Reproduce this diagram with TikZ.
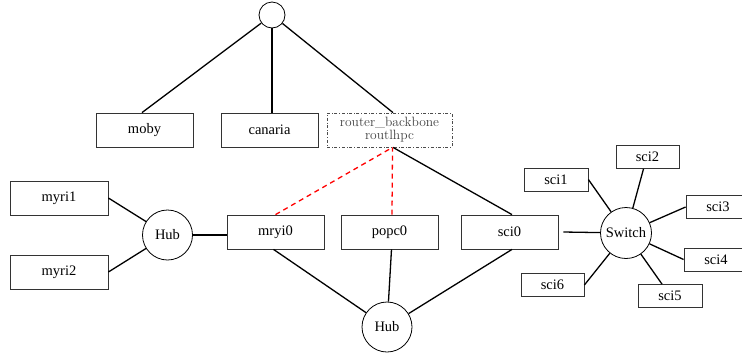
\documentclass[tikz,border=0pt]{standalone}
\usepackage{fontspec}
\newfontfamily\timesfont{Liberation Serif}
\begin{document}
\begin{tikzpicture}[x=1pt,y=-1pt,
  box/.style={draw=black!80,line width=0.8pt,rectangle,inner sep=0pt,font=\timesfont\fontsize{14.5}{16}\selectfont},
  bigbox/.style={box,minimum width=97pt,minimum height=34pt},
  smallbox/.style={box,minimum width=63pt,minimum height=23pt},
  hub/.style={draw=black,line width=0.8pt,circle,inner sep=0pt,minimum size=50pt,font=\timesfont\fontsize{14.5}{16}\selectfont},
  link/.style={line width=1.3pt,black},
  redlink/.style={line width=1.3pt,red,dash pattern=on 5pt off 4pt}]
\useasboundingbox (0,0) rectangle (742,360);
\node[draw,circle,line width=0.8pt,minimum size=26pt,inner sep=0pt] (top) at (272,15) {};
\node[bigbox] (moby) at (144.5,130) {moby};
\node[bigbox] (canaria) at (269.5,130) {canaria};
\node[draw=black!70,dash dot,line width=0.8pt,rectangle,minimum width=125pt,minimum height=34pt,inner sep=0pt,align=center,text=black!75,font=\fontsize{13.5}{14}\selectfont] (router) at (389.5,130) {router\textcolor{black}{\_}backbone\\[-1pt]routlhpc};
\node[bigbox,minimum width=98pt] (myri1) at (59,198) {myri1};
\node[bigbox,minimum width=98pt] (myri2) at (59,272) {myri2};
\node[hub] (hubl) at (167.5,235) {Hub};
\node[bigbox] (mryi0) at (275.5,232) {mryi0};
\node[bigbox] (popc0) at (389.5,232) {popc0};
\node[bigbox] (sci0) at (509.5,232) {sci0};
\node[hub] (hubb) at (387,327) {Hub};
\node[hub,minimum size=51pt] (switch) at (626,233) {Switch};
\node[smallbox,minimum width=64pt] (sci1) at (556,179.5) {sci1};
\node[smallbox] (sci2) at (647.5,157) {sci2};
\node[smallbox,minimum width=64pt] (sci3) at (718,207) {sci3};
\node[smallbox,minimum width=64pt] (sci4) at (716,259.5) {sci4};
\node[smallbox,minimum width=64pt] (sci5) at (670,296) {sci5};
\node[smallbox] (sci6) at (552.5,285) {sci6};
\draw[link] (top) -- ([xshift=-2.5pt]moby.north);
\draw[link] (top) -- (top |- canaria.north);
\draw[link] (top) -- ([xshift=3.5pt]router.north);
\draw[link] ([xshift=3.5pt]router.south) -- ([xshift=2.5pt]sci0.north);
\draw[redlink] (mryi0.north) -- ([xshift=3pt]router.south);
\draw[redlink] ([xshift=2.5pt]popc0.north) -- ([xshift=3pt]router.south);
\draw[link] (myri1.east) -- (hubl);
\draw[link] (myri2.east) -- (hubl);
\draw[link] (hubl) -- (mryi0.west |- hubl);
\draw[link] ([xshift=-2pt]mryi0.south) -- (hubb);
\draw[link] ([xshift=2pt]popc0.south) -- (hubb);
\draw[link] ([xshift=2.5pt]sci0.south) -- (hubb);
\draw[link] ([xshift=5pt]sci0.east) -- (switch);
\draw[link] (sci1.east) -- (switch);
\draw[link] ([xshift=-4pt]sci2.south) -- (switch);
\draw[link] (sci3.west) -- (switch);
\draw[link] (sci4.west) -- (switch);
\draw[link] ([xshift=-8pt]sci5.north) -- (switch);
\draw[link] (sci6.east) -- (switch);
\end{tikzpicture}
\end{document}
